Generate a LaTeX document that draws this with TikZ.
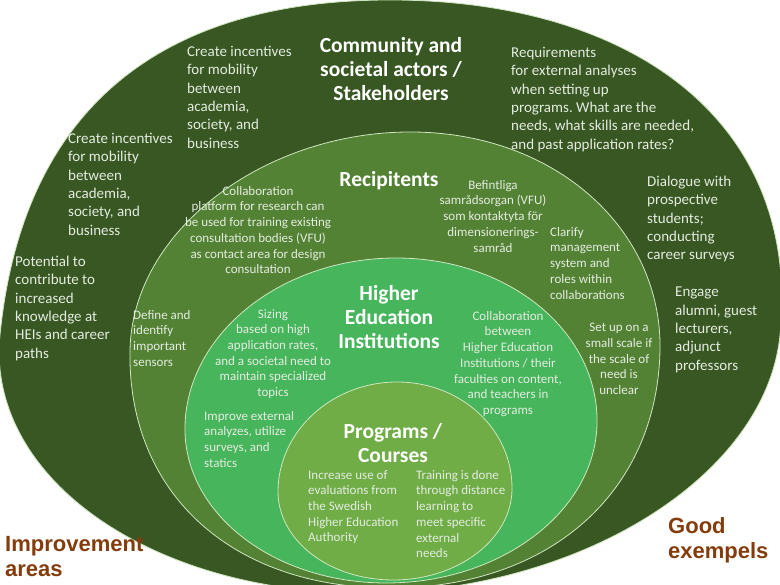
\documentclass[tikz,border=0pt]{standalone}
\usepackage{fontspec}
\setmainfont{Carlito}
\newfontfamily\tagfont{Liberation Sans}
\usepackage{tikz}
\usetikzlibrary{positioning}
\definecolor{forest}{HTML}{385723}
\definecolor{fern}{HTML}{548235}
\definecolor{leaf}{HTML}{46B55C}
\definecolor{olive}{HTML}{70AD47}
\definecolor{rim}{HTML}{CFE6BF}
\definecolor{pale}{HTML}{E4ECE0}
\definecolor{rust}{HTML}{843C0C}
\tikzset{
  ring/.style={draw=rim, line width=0.8pt},
  body/.style={text=pale, font=\fontsize{15}{18.3}\selectfont, align=left, inner sep=0pt},
  small/.style={text=pale, font=\fontsize{13}{15.7}\selectfont, inner sep=0pt},
  head/.style={text=white, font=\fontsize{21.5}{24.3}\selectfont\bfseries, align=center, inner sep=0pt},
  tag/.style={text=rust, font=\tagfont\bfseries\fontsize{22}{25.5}\selectfont, align=left, inner sep=0pt}
}
% egg-like ring: fill, centre, rx, ry top, ry bottom, kappa top, kappa bottom, slant top, slant bottom
\newcommand{\ringpath}[9]{%
  \path[ring, fill=#1, shift={(#2)}]
    (#3,0)
    .. controls ({#3-(#9)*#6*#4},{-#6*#4}) and ({#6*#3-(#8)*#4},{-#4}) .. ({-(#8)*#4},{-#4})
    .. controls ({-#6*#3-(#8)*#4},{-#4}) and ({-#3-(#9)*#6*#4},{-#6*#4}) .. (-#3,0)
    .. controls ({-#3+(#9)*#7*#5},{#7*#5}) and ({-#7*#3+(#9)*#5},{#5}) .. ({(#9)*#5},{#5})
    .. controls ({#7*#3+(#9)*#5},{#5}) and ({#3+(#9)*#7*#5},{#7*#5}) .. (#3,0) -- cycle;}

\begin{document}
\begin{tikzpicture}[x=1pt, y=-1pt]
  \useasboundingbox (0,0) rectangle (780,585);
  % nested rings
  \ringpath{forest}{390,335}{390}{335}{258}{0.63}{0.55}{0}{-0.1}
  \ringpath{fern}{395,350}{265}{218}{238}{0.55}{0.6}{-0.07}{-0.02}
  \ringpath{leaf}{391,425}{206}{167}{158}{0.5523}{0.5523}{-0.03}{-0.03}
  \ringpath{olive}{395,490}{117}{108}{90}{0.5523}{0.5523}{-0.02}{-0.02}

  % community and societal actors
  \node[head, anchor=north] (community) at (391,37) {Community and\\societal actors /\\Stakeholders};
  \node[body, anchor=north west] (mobtop) at (187,46) {Create incentives\\for mobility\\between\\academia,\\society, and\\business};
  \node[body, anchor=north west] (mobleft) at (68,133) {Create incentives\\for mobility\\between\\academia,\\society, and\\business};
  \node[body, anchor=north west] (potential) at (15,256) {Potential to\\contribute to\\increased\\knowledge at\\HEIs and career\\paths};
  \node[body, anchor=north west] (require) at (511,47) {Requirements\\for external analyses\\when setting up\\programs.\ What are the\\needs, what skills are needed,\\and past application rates?};
  \node[body, anchor=north west] (dialogue) at (647,176) {Dialogue with\\prospective\\students;\\conducting\\career surveys};
  \node[body, anchor=north west] (engage) at (675,287) {Engage\\alumni, guest\\lecturers,\\adjunct\\professors};

  % recipients
  \node[head, anchor=north] (recip) at (389,171) {Recipitents};
  \node[small, align=center, anchor=north] (platform) at (258,186) {Collaboration\\platform for research can\\be used for training existing\\consultation bodies (VFU)\\as contact area for design\\consultation};
  \node[small, align=center, anchor=north] (befintliga) at (493,180) {Befintliga\\samrådsorgan (VFU)\\som kontaktyta för\\dimensionerings-\\samråd};
  \node[small, align=left, anchor=north west] (clarify) at (550,227) {Clarify\\management\\system and\\roles within\\collaborations};
  \node[small, align=left, anchor=north west] (define) at (133,310) {Define and\\identify\\important\\sensors};
  \node[small, align=center, anchor=north] (setup) at (619,323) {Set up on a\\small scale if\\the scale of\\need is\\unclear};

  % higher education institutions
  \node[head, anchor=north] (hei) at (389,285) {Higher\\Education\\Institutions};
  \node[small, align=center, anchor=north] (sizing) at (273,309) {Sizing\\based on high\\application rates,\\and a societal need to\\maintain specialized\\topics};
  \node[small, align=center, anchor=north] (heicollab) at (508,311) {Collaboration\\between\\Higher Education\\Institutions / their\\faculties on content,\\and teachers in\\programs};
  \node[small, align=left, anchor=north west] (improve) at (204,411) {Improve external\\analyzes, utilize\\surveys, and\\statics};

  % programs / courses
  \node[head, anchor=north] (programs) at (393,423) {Programs /\\Courses};
  \node[small, align=left, anchor=north west] (increase) at (308,470) {Increase use of\\evaluations from\\the Swedish\\Higher Education\\Authority};
  \node[small, align=left, anchor=north west] (training) at (416,470) {Training is done\\through distance\\learning to\\meet specific\\external\\needs};

  % corner tags
  \node[tag, anchor=north west] (improvement) at (5,536) {Improvement\\areas};
  \node[tag, anchor=north west] (good) at (668,517) {Good\\exempels};
\end{tikzpicture}
\end{document}
